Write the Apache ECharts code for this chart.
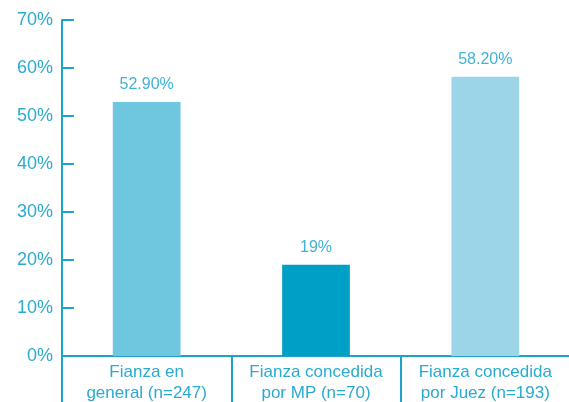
<!DOCTYPE html>
<html>
<head>
<meta charset="utf-8">
<script src="https://cdn.jsdelivr.net/npm/echarts@6/dist/echarts.min.js"></script>
<style>
  html, body { margin: 0; padding: 0; background: #fff; }
  #chart { width: 569px; height: 402px; }
</style>
</head>
<body>
<div id="chart"></div>
<script>
var categories = ['Fianza en\ngeneral (n=247)', 'Fianza concedida\npor MP (n=70)', 'Fianza concedida\npor Juez (n=193)']
var values = [52.9, 19, 58.2]
var valueLabels = ['52.90%', '19%', '58.20%']
var barColors = ['#6ec6df', '#00a0c6', '#9dd5e8']

var axisColor = '#1ba3c9'
var textColor = '#2aaad0'

var chart = echarts.init(document.getElementById('chart'))
chart.setOption({
  animation: false,
  grid: {
    top: 20,
    left: 62,
    right: -1,
    bottom: 46,
    containLabel: false,
    outerBoundsMode: 'none'
  },
  xAxis: {
    type: 'category',
    data: categories,
    axisLine: { lineStyle: { color: axisColor, width: 2 } },
    axisTick: {
      show: true,
      length: 46,
      interval: 0,
      lineStyle: { color: axisColor, width: 2 }
    },
    axisLabel: {
      interval: 0,
      margin: 6,
      color: textColor,
      fontFamily: 'Liberation Sans, Arial, sans-serif',
      fontSize: 17,
      lineHeight: 21
    }
  },
  yAxis: {
    type: 'value',
    min: 0,
    max: 70,
    interval: 10,
    splitLine: { show: false },
    axisLine: { show: true, lineStyle: { color: axisColor, width: 2 } },
    axisTick: {
      show: true,
      inside: true,
      length: 12,
      lineStyle: { color: axisColor, width: 2 }
    },
    axisLabel: {
      margin: 9,
      color: textColor,
      fontFamily: 'Liberation Sans, Arial, sans-serif',
      fontSize: 18,
      padding: [6, 0, 0, 0],
      formatter: '{value}%'
    }
  },
  series: [{
    type: 'bar',
    barWidth: '40%',
    data: values.map(function (v, i) {
      return { value: v, itemStyle: { color: barColors[i] } }
    }),
    label: {
      show: true,
      position: 'top',
      distance: 9,
      color: '#3fb3d6',
      fontFamily: 'Liberation Sans, Arial, sans-serif',
      fontSize: 16,
      formatter: function (p) { return valueLabels[p.dataIndex] }
    }
  }]
})
</script>
</body>
</html>
